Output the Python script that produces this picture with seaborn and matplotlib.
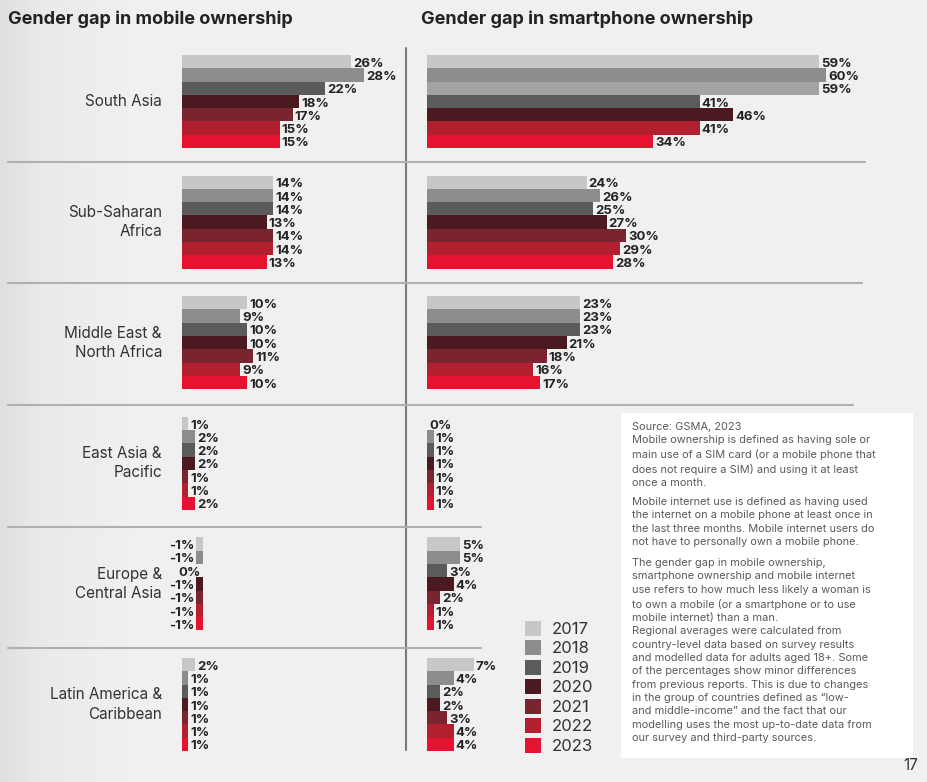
import numpy as np
import pandas as pd
import matplotlib.pyplot as plt
import seaborn as sns
from matplotlib.lines import Line2D
from matplotlib.patches import Patch, Rectangle

sns.set_style("white")
plt.rcParams['font.family'] = ['Inter', 'DejaVu Sans']

years = ["2017", "2018", "2019", "2020", "2021", "2022", "2023"]
year_colors = ["#c7c7c7", "#8d8d8d", "#5b5b5b", "#4b1a20", "#7a2430", "#b21f2f", "#e5132f"]

regions = ["South Asia", "Sub-Saharan\nAfrica", "Middle East &\nNorth Africa",
           "East Asia &\nPacific", "Europe &\nCentral Asia", "Latin America &\nCaribbean"]

# gender gap in mobile ownership (%), 2017..2023
mobile_south_asia = [26, 28, 22, 18, 17, 15, 15]
mobile_ssa = [14, 14, 14, 13, 14, 14, 13]
mobile_mena = [10, 9, 10, 10, 11, 9, 10]
mobile_eap = [1, 2, 2, 2, 1, 1, 2]
mobile_eca = [-1, -1, 0, -1, -1, -1, -1]
mobile_lac = [2, 1, 1, 1, 1, 1, 1]

# gender gap in smartphone ownership (%), 2017..2023
smart_south_asia = [59, 60, 59, 41, 46, 41, 34]
smart_ssa = [24, 26, 25, 27, 30, 29, 28]
smart_mena = [23, 23, 23, 21, 18, 16, 17]
smart_eap = [0, 1, 1, 1, 1, 1, 1]
smart_eca = [5, 5, 3, 4, 2, 1, 1]
smart_lac = [7, 4, 2, 2, 3, 4, 4]

mobile = [mobile_south_asia, mobile_ssa, mobile_mena, mobile_eap, mobile_eca, mobile_lac]
smart = [smart_south_asia, smart_ssa, smart_mena, smart_eap, smart_eca, smart_lac]

rows = []
for panel, series in [("mobile", mobile), ("smart", smart)]:
    for reg, vals in zip(regions, series):
        for y, v in zip(years, vals):
            rows.append({"panel": panel, "region": reg, "year": y, "gap": v})
df = pd.DataFrame(rows)

# the printed South Asia smartphone group uses shifted colours in the source
sa_smart_colors = ["#c7c7c7", "#8d8d8d", "#a3a3a3", "#5b5b5b", "#4b1a20", "#b21f2f", "#e5132f"]

W, H = 928, 782
fig = plt.figure(figsize=(W / 100, H / 100), dpi=100)
fig.patch.set_facecolor("#efefef")


def box(x0, y0, w, h):
    return [x0 / W, 1 - (y0 + h) / H, w / W, h / H]


def fx(x):
    return x / W


def fy(y):
    return 1 - y / H


# soft darker band on the left edge of the page
bg = fig.add_axes([0, 0, 1, 1], zorder=-10)
shade = np.interp(np.arange(W), [0, 40, 140, W], [0.87, 0.915, 0.94, 0.94])
bg.imshow(shade[None, :], cmap="gray", vmin=0, vmax=1, aspect="auto", extent=(0, W, 0, H))
bg.axis("off")

# panel geometry in pixels: (axes left, axes right, zero position, px per %)
panels = {"mobile": (150, 400, 182, 6.5), "smart": (410, 900, 427, 6.65)}
row_top0, row_step, row_h = 55, 120.6, 93

for panel, (x0, x1, zero, scale) in panels.items():
    for i, reg in enumerate(regions):
        sub = df[(df.panel == panel) & (df.region == reg)]
        neg = (sub.gap < 0).any()
        z = zero + 21 if neg else zero
        top = row_top0 + i * row_step
        ax = fig.add_axes(box(x0, top, x1 - x0, row_h))
        pal = sa_smart_colors if (panel == "smart" and i == 0) else year_colors
        sns.barplot(data=sub, x="gap", y="year", hue="year", palette=pal, width=1.0,
                    saturation=1, legend=False, orient="h", linewidth=0, ax=ax)
        ax.set_xlim((x0 - z) / scale, (x1 - z) / scale)
        ax.set_ylim(6.5, -0.5)
        ax.axis("off")
        for p in ax.patches:
            w = p.get_width()
            yc = p.get_y() + p.get_height() / 2
            if neg:
                ax.annotate(f"{int(round(w))}%", (min(w, 0), yc), xytext=(-1.5, -1.5),
                            textcoords="offset points", ha="right", va="center",
                            fontsize=9.5, fontweight="bold", color="#222222")
            else:
                ax.annotate(f"{int(round(w))}%", (w, yc), xytext=(1.5, -1.5),
                            textcoords="offset points", ha="left", va="center",
                            fontsize=9.5, fontweight="bold", color="#222222")
        if panel == "mobile":
            fig.text(fx(162), fy(top + row_h / 2), reg, ha="right", va="center",
                     fontsize=11, color="#333333", linespacing=1.35)

# titles
fig.text(fx(8), fy(19), "Gender gap in mobile ownership", fontsize=13,
         fontweight="bold", color="#222222", va="center")
fig.text(fx(421), fy(19), "Gender gap in smartphone ownership", fontsize=13,
         fontweight="bold", color="#222222", va="center")

# divider lines
fig.add_artist(Line2D([fx(406), fx(406)], [fy(48), fy(750)], color="#7a7a7a", lw=1.5))
seps = [162, 283, 405, 527, 648]
right_ends = [865, 862, 853, 481, 481]
for ys, xe in zip(seps, right_ends):
    fig.add_artist(Line2D([fx(8), fx(406)], [fy(ys), fy(ys)], color="#b0b0b0", lw=1.5))
    fig.add_artist(Line2D([fx(406), fx(xe)], [fy(ys), fy(ys)], color="#b0b0b0", lw=1.5))

# legend
handles = [Patch(facecolor=c, edgecolor="none") for c in year_colors]
fig.legend(handles, years, loc="upper left", bbox_to_anchor=(fx(513), fy(609)),
           frameon=False, fontsize=12, handlelength=1.0, handleheight=1.0,
           labelspacing=0.2, handletextpad=0.6, labelcolor="#333333",
           borderpad=0.2)

# notes box
fig.add_artist(Rectangle((fx(621), fy(758)), fx(913) - fx(621), fy(413) - fy(758),
                         transform=fig.transFigure, facecolor="white", edgecolor="none"))
note1 = ("Source: GSMA, 2023\n"
         "Mobile ownership is defined as having sole or\n"
         "main use of a SIM card (or a mobile phone that\n"
         "does not require a SIM) and using it at least\n"
         "once a month.")
note2 = ("Mobile internet use is defined as having used\n"
         "the internet on a mobile phone at least once in\n"
         "the last three months. Mobile internet users do\n"
         "not have to personally own a mobile phone.")
note3 = ("The gender gap in mobile ownership,\n"
         "smartphone ownership and mobile internet\n"
         "use refers to how much less likely a woman is\n"
         "to own a mobile (or a smartphone or to use\n"
         "mobile internet) than a man.\n"
         "Regional averages were calculated from\n"
         "country-level data based on survey results\n"
         "and modelled data for adults aged 18+. Some\n"
         "of the percentages show minor differences\n"
         "from previous reports. This is due to changes\n"
         "in the group of countries defined as \u201clow-\n"
         "and middle-income\u201d and the fact that our\n"
         "modelling uses the most up-to-date data from\n"
         "our survey and third-party sources.")
for txt, ytop in [(note1, 422), (note2, 497), (note3, 558)]:
    fig.text(fx(632), fy(ytop), txt, ha="left", va="top", fontsize=7.9,
             color="#5a5a5a", linespacing=1.42)

fig.text(fx(918), fy(766), "17", ha="right", va="center", fontsize=11, color="#333333")

fig.savefig("out.png", dpi=100, facecolor=fig.get_facecolor())
